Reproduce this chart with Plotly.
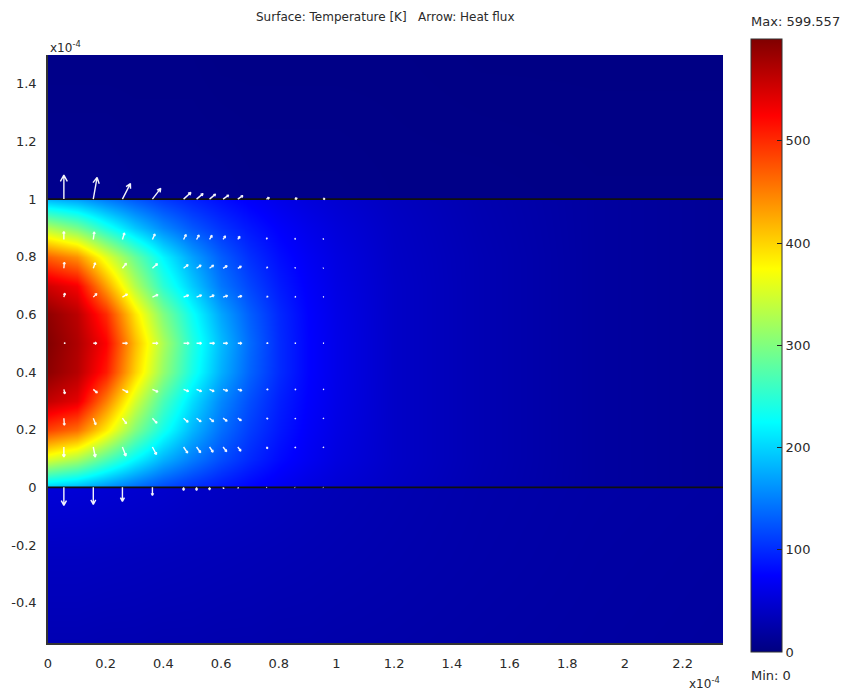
import math
import plotly.graph_objects as go

# ---------------- data (units of 1e-4 m, temperature in K) ----------------
x_grid = [0.0, 0.1, 0.2, 0.3, 0.4, 0.5, 0.6, 0.7, 0.8, 0.9, 1.0, 1.2, 1.5, 1.9, 2.35]

# film layer (0 <= y <= 1)
film_y = [0.0, 0.1, 0.2, 0.3, 0.4, 0.5, 0.6, 0.7, 0.8, 0.9, 1.0]
film_T = [
    [195, 182, 160, 138, 118, 102, 88, 76, 66, 57, 50, 40, 29, 19, 13],
    [355, 325, 272, 222, 180, 148, 120, 98, 80, 67, 56, 42, 30, 19, 13],
    [485, 460, 385, 300, 235, 182, 140, 110, 88, 71, 59, 42, 30, 19, 13],
    [560, 540, 450, 350, 268, 206, 155, 120, 93, 74, 61, 42, 30, 19, 13],
    [592, 568, 510, 402, 312, 238, 178, 133, 100, 76, 62, 42, 30, 19, 13],
    [598, 572, 525, 415, 325, 245, 185, 137, 100, 76, 62, 42, 30, 19, 13],
    [590, 565, 500, 390, 300, 230, 172, 130, 98, 75, 61, 42, 30, 19, 13],
    [552, 530, 430, 330, 250, 195, 145, 115, 90, 72, 59, 42, 30, 19, 13],
    [468, 440, 360, 285, 220, 170, 130, 102, 82, 68, 57, 41, 30, 19, 13],
    [330, 295, 240, 192, 155, 126, 104, 87, 73, 62, 53, 40, 29, 19, 13],
    [180, 168, 146, 126, 108, 94, 82, 71, 62, 54, 48, 38, 28, 19, 13],
]

# substrate below the film
below_y = [-0.54, -0.25, 0.0]
below_T = [
    [30, 30, 29, 29, 28, 28, 27, 27, 26, 26, 25, 24, 22, 20, 18],
    [38, 38, 37, 36, 35, 34, 33, 32, 31, 30, 29, 27, 24, 21, 19],
    [52, 51, 49, 47, 45, 42, 40, 38, 36, 34, 32, 29, 25, 22, 20],
]

# region above the film
above_y = [1.0, 1.5]
above_T = [
    [8, 8, 8, 7, 7, 7, 7, 6, 6, 6, 6, 5, 5, 4, 4],
    [5, 5, 5, 5, 5, 5, 4, 4, 4, 4, 4, 4, 3, 3, 3],
]

T_max = 599.557
T_min = 0
layer_bounds = [0.0, 1.0]

# heat flux arrows (tail positions and components)
arrow_cols_x = [0.055, 0.157, 0.258, 0.362, 0.47, 0.515, 0.56, 0.607, 0.658, 0.757, 0.855, 0.953]
arrow_rows_y = [1.0, 0.86, 0.76, 0.66, 0.5, 0.34, 0.24, 0.14, 0.0]
flux_u = [
    [0, 3.8, 8, 8.3, 7.3, 6.5, 6, 5.5, 5, 3, 2.5, 2],
    [0, 1, 2, 2.5, 2.5, 2.5, 2.5, 2.3, 2, 1, 1, 0.8],
    [0.5, 2, 4, 5, 4.5, 4.5, 4, 4, 3.5, 1.5, 1, 0.8],
    [1, 3.5, 5, 5.5, 5, 5, 4.5, 4.5, 4, 1.8, 1.3, 1],
    [1.5, 3.5, 5, 5.5, 5.5, 5, 5, 4.5, 4, 1.8, 1.3, 1],
    [1, 4, 5.5, 5.5, 5, 5, 4.5, 4.5, 4, 1.8, 1.3, 1],
    [0.5, 2.5, 4, 4.5, 4.5, 4.5, 4, 4, 3.5, 1.5, 1, 0.8],
    [0, 2, 3.5, 4, 4, 4, 3.5, 3.5, 3, 1.3, 1, 0.8],
    [0, 0, 0, 0, 0, 0, 0, 0.5, 0.5, 0.5, 0.5, 0.5],
]
flux_v = [
    [24, 21.7, 15.5, 10.7, 6.7, 5.5, 5, 4, 3.5, 1.5, 1, 0.5],
    [8, 7.5, 6.5, 5.5, 5, 4.5, 4, 3.5, 3, 1.5, 1, 0.8],
    [6, 5.5, 5, 4.5, 3.5, 3, 3, 2.5, 2, 1, 0.7, 0.5],
    [4, 3.5, 3, 2.5, 2, 2, 1.8, 1.5, 1.3, 0.5, 0.3, 0.2],
    [0, 0, 0, 0, 0, 0, 0, 0, 0, 0, 0, 0],
    [-4.5, -3.5, -3, -2.5, -2, -2, -2, -1.5, -1.3, -0.5, -0.4, -0.3],
    [-7, -6.5, -5.5, -5, -4, -3.5, -3.5, -3, -2.5, -1, -0.8, -0.6],
    [-10, -10, -9, -7.5, -6, -5.5, -5, -4.5, -4, -1.5, -1, -0.8],
    [-18, -17, -14, -8, -3, -3, -2.5, -1.5, -1, -0.5, -0.3, -0.3],
]

x_tick_vals = [0, 0.2, 0.4, 0.6, 0.8, 1, 1.2, 1.4, 1.6, 1.8, 2, 2.2]
x_tick_text = ["0", "0.2", "0.4", "0.6", "0.8", "1", "1.2", "1.4", "1.6", "1.8", "2", "2.2"]
y_tick_vals = [-0.4, -0.2, 0, 0.2, 0.4, 0.6, 0.8, 1, 1.2, 1.4]
y_tick_text = ["-0.4", "-0.2", "0", "0.2", "0.4", "0.6", "0.8", "1", "1.2", "1.4"]
cbar_tick_vals = [0, 100, 200, 300, 400, 500]

# ---------------- layout geometry ----------------
W, H = 845, 691
ML, MR, MT, MB = 48, 122, 55, 48
PW, PH = W - ML - MR, H - MT - MB
x_range = [0, 2.34]
y_range = [-0.54, 1.5]
ppx = PW / (x_range[1] - x_range[0])
ppy = PH / (y_range[1] - y_range[0])

jet = [
    [0.0, "rgb(0,0,128)"],
    [0.125, "rgb(0,0,255)"],
    [0.375, "rgb(0,255,255)"],
    [0.625, "rgb(255,255,0)"],
    [0.875, "rgb(255,0,0)"],
    [1.0, "rgb(128,0,0)"],
]

# combine the three regions into one grid, keeping the jumps at the layer boundaries sharp
eps = 0.0004
hm_y = (below_y[:-1] + [below_y[-1] - eps]
        + [film_y[0] + eps] + film_y[1:-1] + [film_y[-1] - eps]
        + [above_y[0] + eps] + above_y[1:])
hm_z = below_T + film_T + above_T

font_main = "DejaVu Sans, Verdana, sans-serif"
txt_col = "#2a2a2a"

fig = go.Figure()
fig.add_trace(go.Heatmap(
    x=x_grid, y=hm_y, z=hm_z, zsmooth="best",
    colorscale=jet, zmin=T_min, zmax=T_max, hoverinfo="skip",
    colorbar=dict(
        x=(751 - ML) / PW, xanchor="left", xref="paper",
        y=(H - MB - 39) / PH, yanchor="top",
        len=613, lenmode="pixels", thickness=31, thicknessmode="pixels",
        xpad=0, ypad=0, outlinewidth=1, outlinecolor="#333",
        tickvals=cbar_tick_vals, ticks="inside", ticklen=5, tickcolor="#222",
        tickfont=dict(family=font_main, size=13, color=txt_col),
    ),
))

# layer boundaries
for yb in layer_bounds:
    fig.add_trace(go.Scatter(
        x=x_range, y=[yb, yb], mode="lines",
        line=dict(color="#101010", width=1.6), hoverinfo="skip", showlegend=False))

# arrows
axs, ays = [], []
for r, yv in enumerate(arrow_rows_y):
    for c, xv in enumerate(arrow_cols_x):
        u, v = flux_u[r][c], flux_v[r][c]
        L = math.hypot(u, v)
        hx, hy = xv + u / ppx, yv + v / ppy
        axs += [xv, hx]
        ays += [yv, hy]
        th = math.atan2(v, u)
        hl = min(max(0.3 * L, 2.2), 0.8 * L)
        for s in (1, -1):
            ang = th + math.pi + s * 0.5
            bx = hx + hl * math.cos(ang) / ppx
            by = hy + hl * math.sin(ang) / ppy
            axs += [bx, hx]
            ays += [by, hy]
        axs.append(None)
        ays.append(None)

fig.add_trace(go.Scatter(
    x=axs, y=ays, mode="lines",
    line=dict(color="rgba(255,255,255,0.95)", width=1.4),
    hoverinfo="skip", showlegend=False))

annots = [
    dict(text="Surface: Temperature [K]\u00a0\u00a0\u00a0Arrow: Heat flux",
         x=0.5, y=(H - MB - 17) / PH, xref="paper", yref="paper",
         xanchor="center", yanchor="middle", showarrow=False,
         font=dict(family=font_main, size=12, color=txt_col)),
    dict(text="Max:\u00a0" + str(T_max), x=(749 - ML) / PW, y=(H - MB - 21) / PH,
         xref="paper", yref="paper", xanchor="left", yanchor="middle", showarrow=False,
         font=dict(family=font_main, size=13, color=txt_col)),
    dict(text="Min:\u00a0" + str(T_min), x=(749 - ML) / PW, y=(H - MB - 676) / PH,
         xref="paper", yref="paper", xanchor="left", yanchor="middle", showarrow=False,
         font=dict(family=font_main, size=13, color=txt_col)),
    dict(text="x10<sup>-4</sup>", x=0, y=1, xref="paper", yref="paper",
         xanchor="left", yanchor="bottom", showarrow=False, yshift=-2,
         font=dict(family=font_main, size=12, color=txt_col)),
    dict(text="x10<sup>-4</sup>", x=1, y=0, xref="paper", yref="paper",
         xanchor="right", yanchor="top", showarrow=False, xshift=-1, yshift=-30,
         font=dict(family=font_main, size=12, color=txt_col)),
]

fig.update_layout(
    width=W, height=H, autosize=False,
    margin=dict(l=ML, r=MR, t=MT, b=MB, pad=0),
    paper_bgcolor="white", plot_bgcolor="white",
    showlegend=False, annotations=annots,
    xaxis=dict(range=x_range, tickvals=x_tick_vals, ticktext=x_tick_text,
               showgrid=False, zeroline=False, showline=True, linecolor="#333",
               linewidth=1.5, ticks="", ticklabelstandoff=8,
               tickfont=dict(family=font_main, size=13, color=txt_col)),
    yaxis=dict(range=y_range, tickvals=y_tick_vals, ticktext=y_tick_text,
               showgrid=False, zeroline=False, showline=True, linecolor="#333",
               linewidth=1.5, ticks="", ticklabelstandoff=7,
               tickfont=dict(family=font_main, size=13, color=txt_col)),
)

fig.write_html("out.html")
